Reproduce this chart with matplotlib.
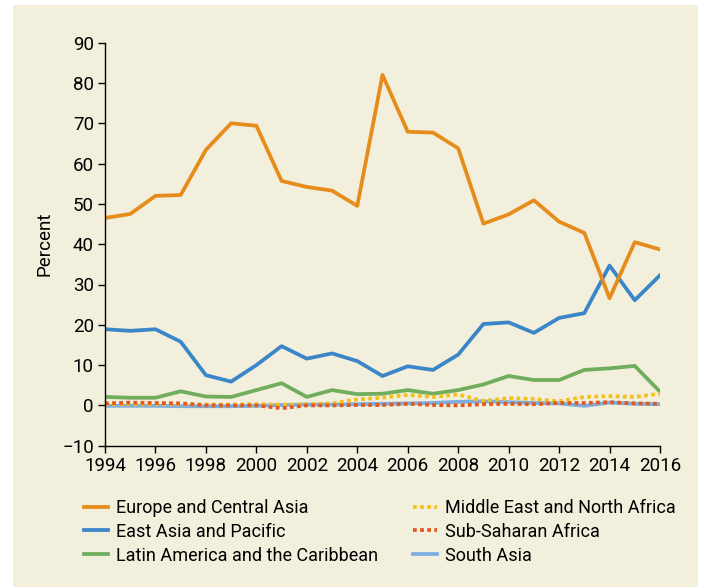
import matplotlib
matplotlib.use('Agg')
import matplotlib.pyplot as plt
from matplotlib.patches import Rectangle

plt.rcParams['font.family'] = ['Roboto', 'DejaVu Sans']

years = list(range(1994, 2017))

europe = [46.5, 47.5, 52.0, 52.2, 63.4, 70.0, 69.4, 55.7, 54.2, 53.3, 49.5, 82.0,
          67.9, 67.7, 63.8, 45.1, 47.4, 50.9, 45.6, 42.8, 26.6, 40.5, 38.7]
east_asia = [18.9, 18.5, 18.9, 15.8, 7.5, 5.9, 10.0, 14.7, 11.6, 12.9, 11.0, 7.3,
             9.7, 8.8, 12.6, 20.2, 20.6, 18.0, 21.7, 22.9, 34.7, 26.1, 32.3]
latin = [2.1, 1.9, 1.9, 3.5, 2.2, 2.1, 3.8, 5.5, 2.1, 3.8, 2.8, 2.9,
         3.8, 2.9, 3.8, 5.2, 7.3, 6.3, 6.3, 8.8, 9.2, 9.8, 3.4]
mideast = [0.3, 0.3, 0.3, 0.3, 0.2, 0.2, 0.3, 0.2, 0.3, 0.5, 1.5, 1.9,
           2.6, 2.1, 2.7, 1.1, 1.8, 1.6, 1.0, 2.1, 2.3, 2.1, 2.9]
subsahara = [0.5, 0.7, 0.6, 0.5, 0.0, 0.0, 0.0, -0.7, 0.0, 0.0, 0.1, 0.1,
             0.4, 0.1, 0.0, 0.3, 0.4, 0.3, 0.6, 0.6, 0.8, 0.5, 0.4]
south_asia = [-0.1, -0.1, -0.1, -0.2, -0.2, -0.2, -0.1, 0.1, 0.2, 0.2, 0.3, 0.4,
              0.5, 0.6, 0.9, 1.0, 0.8, 0.6, 0.5, -0.1, 0.7, 0.4, 0.3]

bg = '#f2efdd'

fig = plt.figure(figsize=(7.05, 5.87), dpi=100)
fig.patches.append(Rectangle((13 / 705, 0), 685 / 705, 582 / 587,
                             transform=fig.transFigure, facecolor=bg,
                             edgecolor='none', zorder=-10))

ax = fig.add_axes([105 / 705, 1 - 445.7 / 587, 555 / 705, 403 / 587])
ax.set_facecolor('none')

lw = 2.7
l_sa, = ax.plot(years, south_asia, color='#7eaee0', lw=lw, label='South Asia')
l_la, = ax.plot(years, latin, color='#70ad5c', lw=lw, label='Latin America and the Caribbean')
l_me, = ax.plot(years, mideast, color='#f3c01c', lw=lw, dashes=(1, 0.9),
                dash_capstyle='butt', label='Middle East and North Africa')
l_ss, = ax.plot(years, subsahara, color='#e2581f', lw=lw, dashes=(1, 0.9),
                dash_capstyle='butt', label='Sub-Saharan Africa')
l_ea, = ax.plot(years, east_asia, color='#3a86c8', lw=lw, label='East Asia and Pacific')
l_eu, = ax.plot(years, europe, color='#e68c1a', lw=lw, label='Europe and Central Asia')

ax.set_xlim(1994, 2016)
ax.set_ylim(-10, 90)
ax.set_xticks(range(1994, 2017, 2))
ax.set_yticks(range(-10, 91, 10))
ax.set_yticklabels([str(v).replace('-', '\u2212') for v in range(-10, 91, 10)])
for s in ['top', 'right']:
    ax.spines[s].set_visible(False)
for s in ['left', 'bottom']:
    ax.spines[s].set_linewidth(1.0)
ax.tick_params(direction='out', length=5, width=1, labelsize=13.5, pad=3)
ax.set_ylabel('Percent', fontsize=13.5, labelpad=6)

fig.legend(handles=[l_eu, l_ea, l_la, l_me, l_ss, l_sa], ncol=2,
           loc='upper left', bbox_to_anchor=(84 / 705, 1 - 499 / 587),
           frameon=False, fontsize=13, handlelength=1.35, handletextpad=0.45,
           columnspacing=1.9, labelspacing=0.32, borderpad=0, borderaxespad=0)

fig.savefig('out.png', dpi=100)
